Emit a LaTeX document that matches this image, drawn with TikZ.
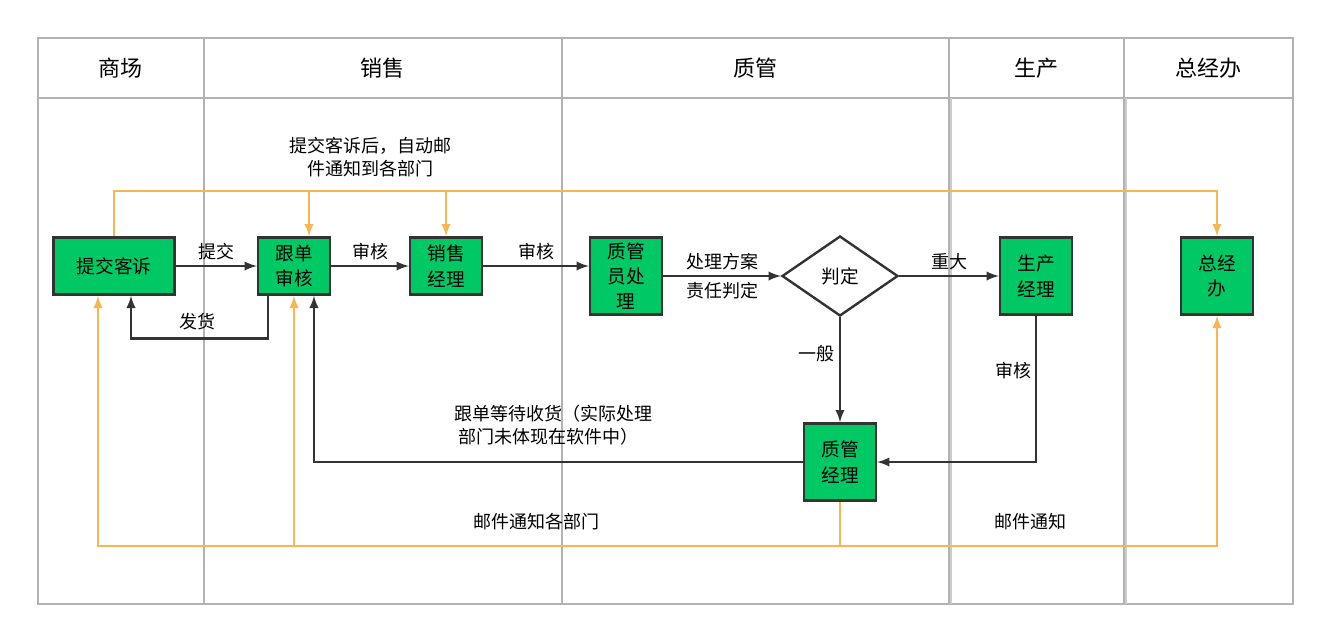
\documentclass[tikz,border=0pt]{standalone}
\usepackage{fontspec}
\setmainfont{Noto Sans CJK SC}
\usetikzlibrary{shapes,arrows,positioning,calc}
\definecolor{boxgreen}{HTML}{00C864}
\definecolor{mailorange}{HTML}{F8B551}
\definecolor{flowgray}{HTML}{333333}
\begin{document}
\begin{tikzpicture}[x=0.75pt, y=-0.75pt, >=latex, font=\fontsize{13.5}{17}\selectfont]
        % Styles
        \tikzstyle{block} = [rectangle, draw=flowgray, line width=1.8pt, fill=boxgreen, text width=1.3cm, align=center, minimum width=54pt, font=\fontsize{14}{19}\selectfont]
        \tikzstyle{decision} = [diamond, draw=flowgray, line width=1.8pt, fill=white, minimum width=87pt, minimum height=60pt, inner sep=0pt, font=\fontsize{14}{19}\selectfont]
        \tikzstyle{line} = [draw=flowgray, ->, line width=2.1pt]
        \tikzstyle{mail} = [draw=mailorange, line width=2.1pt]
        \tikzstyle{lane} = [draw=gray!60, line width=0.8pt]

        \useasboundingbox (0,0) rectangle (1329,640);

        % Lanes
        \draw [lane] (38,38) rectangle (1293,604);
        \draw [lane] (38,98) -- (1293,98);
        \foreach \x in {204,562,949,1124} \draw [lane] (\x,38) -- (\x,604);
        \foreach \x in {951,1126} \draw [lane, gray!40] (\x,98) -- (\x,604);
        \foreach \x/\t in {120/商场,382/销售,755/质管,1036/生产,1208/总经办}
            \node [font=\fontsize{16.5}{20}\selectfont] (head\x) at (\x,68) {\t};

        % Nodes
        \node [block, text width=, minimum width=91pt, minimum height=43pt] (complain) at (114,266) {提交客诉};
        \node [block, minimum height=43pt] (track) at (294,266) {跟单\\审核};
        \node [block, minimum height=43pt] (salesmgr) at (446,266) {销售\\经理};
        \node [block, minimum height=58pt] (qcstaff) at (626,276) {质管\\员处\\理};
        \node [decision] (judge) at (840,276) {判定};
        \node [block, minimum height=58pt] (prodmgr) at (1036,276) {生产\\经理};
        \node [block, minimum height=58pt] (gm) at (1217,276) {总经\\办};
        \node [block, minimum height=58pt] (qcmgr) at (840,462) {质管\\经理};

        % Edges
        \path [line] (complain) -- node [above] {提交} (track);
        \path [line] ($(track.south)+(-26,0)$) -- ++(0,43) -| ($(complain.south)+(17,0)$);
        \node (ship) at (197,322) {发货};
        \path [line] (track) -- node [above] {审核} (salesmgr);
        \path [line] (salesmgr.east) -- node [above] {审核} (salesmgr.east -| qcstaff.west);
        \path [line] (qcstaff) -- node [above] {处理方案} node [below] {责任判定} (judge);
        \path [line] (judge) -- node [above] {重大} (prodmgr);
        \path [line] (judge) -- node [left, pos=0.35] {一般} (qcmgr);
        \path [line] (prodmgr.south) |- (qcmgr.east);
        \node (audit) at (1013,371) {审核};
        \path [line] (qcmgr.west) -| ($(track.south)+(20,0)$);
        \node [align=left] (wait) at (553,425) {跟单等待收货（实际处理\\\ 部门未体现在软件中）};

        % Mail
        \coordinate (mailTop) at (114,191);
        \draw [mail, ->] (complain.north) -- (mailTop) -| (gm.north);
        \draw [mail, ->] ($(track.north |- mailTop)+(15,0)$) -- ($(track.north)+(15,0)$);
        \draw [mail, ->] (salesmgr.north |- mailTop) -- (salesmgr.north);
        \node [align=center] (notice) at (370,157) {提交客诉后，自动邮\\件通知到各部门};
        \coordinate (mailBot) at (840,546);
        \draw [mail] (qcmgr.south) -- (mailBot);
        \draw [mail, ->] (mailBot) -| (gm.south);
        \draw [mail, ->] (mailBot) -| ($(complain.south)+(-16,0)$);
        \draw [mail, ->] (track.south |- mailBot) -- (track.south);
        \node (mailall) at (536,522) {邮件通知各部门};
        \node (mailprod) at (1030,522) {邮件通知};
\end{tikzpicture}
\end{document}
